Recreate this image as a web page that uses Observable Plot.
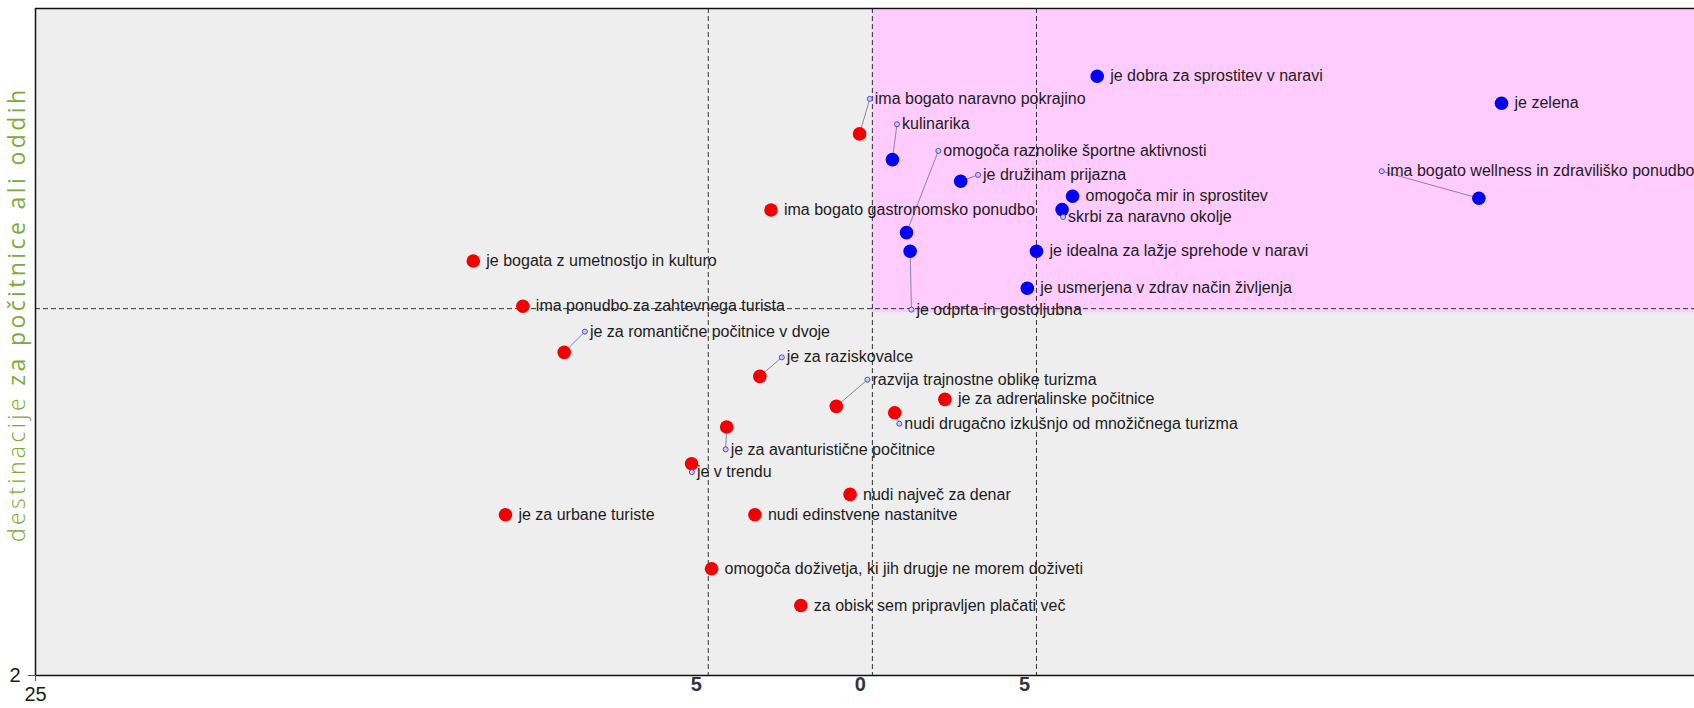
<!DOCTYPE html>
<html>
<head>
<meta charset="utf-8">
<script src="https://cdn.jsdelivr.net/npm/d3@7"></script>
<script src="https://cdn.jsdelivr.net/npm/@observablehq/plot@0.6"></script>
<style>
  body { margin: 0; background: #ffffff; }
  #chart svg { display: block; }
</style>
</head>
<body>
<div id="chart"></div>
<script>
// ---- Data ----
const labels = [
  "je dobra za sprostitev v naravi",
  "je zelena",
  "ima bogato wellness in zdraviliško ponudbo",
  "kulinarika",
  "omogoča raznolike športne aktivnosti",
  "je družinam prijazna",
  "omogoča mir in sprostitev",
  "skrbi za naravno okolje",
  "je idealna za lažje sprehode v naravi",
  "je usmerjena v zdrav način življenja",
  "je odprta in gostoljubna",
  "ima bogato naravno pokrajino",
  "ima bogato gastronomsko ponudbo",
  "je bogata z umetnostjo in kulturo",
  "ima ponudbo za zahtevnega turista",
  "je za romantične počitnice v dvoje",
  "je za raziskovalce",
  "razvija trajnostne oblike turizma",
  "je za adrenalinske počitnice",
  "nudi drugačno izkušnjo od množičnega turizma",
  "je za avanturistične počitnice",
  "je v trendu",
  "nudi največ za denar",
  "je za urbane turiste",
  "nudi edinstvene nastanitve",
  "omogoča doživetja, ki jih drugje ne morem doživeti",
  "za obisk sem pripravljen plačati več"
];
const groups = [
  "blue","blue","blue","blue","blue","blue","blue","blue","blue","blue","blue",
  "red","red","red","red","red","red","red","red","red","red","red","red","red","red","red","red"
];
const xValues = [6.85, 19.17, 18.48, 0.61, 1.04, 2.69, 6.10, 5.78, 5.00, 4.72, 1.15,
  -0.39, -3.09, -12.16, -10.65, -9.39, -3.43, -1.10, 2.21, 0.68, -4.44, -5.51, -0.68, -11.18, -3.58, -4.90, -2.18];
const yValues = [19.97, 19.16, 16.31, 17.47, 15.28, 16.82, 16.37, 15.97, 14.72, 13.61, 14.72,
  18.24, 15.96, 14.43, 13.07, 11.69, 10.97, 10.07, 10.28, 9.88, 9.45, 8.35, 7.43, 6.82, 6.82, 5.20, 4.10];
// label anchor (small circle) when the label is moved away from its point; null = label at the point
const labelX = [null, null, 15.52, 0.75, 2.01, 3.22, null, 5.81, null, null, 1.19,
  -0.08, null, null, null, -8.76, -2.76, -0.15, null, 0.82, -4.47, -5.50, null, null, null, null, null];
const labelY = [null, null, 17.12, 18.53, 17.73, 17.01, null, 15.75, null, null, 12.97,
  19.29, null, null, null, 12.31, 11.54, 10.87, null, 9.55, 8.78, 8.10, null, null, null, null, null];

const xDomain = [-25.5, 25.05];
const yDomain = [2, 22];
const xTicks = [-5, 0, 5];
const xTickLabels = ["5", "0", "5"];
const xEdgeLabel = "25";
const yTicks = [2];
const yTickLabels = ["2"];
const refX = [-5, 0, 5];
const refY = 13;
const titleLight = "destinacije ";
const titleRegular = "za počitnice ali oddih";

// ---- Build rows ----
const rows = labels.map((t, i) => ({
  text: t, color: groups[i] === "blue" ? "#0000f5" : "#f50000",
  x: xValues[i], y: yValues[i], lx: labelX[i], ly: labelY[i]
}));
const anchored = rows.filter(d => d.lx !== null);
const plain = rows.filter(d => d.lx === null);

const chart = Plot.plot({
  width: 1694,
  height: 708,
  marginLeft: 35,
  marginRight: 0,
  marginTop: 8,
  marginBottom: 33,
  style: { fontFamily: "'Liberation Sans', Arial, sans-serif", background: "#ffffff", overflow: "visible" },
  x: { domain: xDomain, axis: null },
  y: { domain: yDomain, axis: null },
  color: { type: "identity" },
  marks: [
    Plot.frame({ fill: "#eeeeee", stroke: null }),
    Plot.rect([0], { x1: 0, x2: xDomain[1], y1: refY - 0.12, y2: yDomain[1] - 0.06, fill: "#ffccff" }),
    Plot.ruleX(refX, { stroke: "#333333", strokeWidth: 1, strokeDasharray: "5,3" }),
    Plot.ruleY([refY], { stroke: "#333333", strokeWidth: 1, strokeDasharray: "5,3" }),
    Plot.link(anchored, { x1: "x", y1: "y", x2: "lx", y2: "ly", stroke: "#8c82a6", strokeWidth: 1 }),
    Plot.dot(rows, { x: "x", y: "y", r: 6.8, fill: "color", stroke: null }),
    Plot.dot(anchored, { x: "lx", y: "ly", r: 2.5, fill: "#cfcfff", stroke: "#4848e8", strokeWidth: 1 }),
    Plot.text(plain, { x: "x", y: "y", text: "text", textAnchor: "start", dx: 13, fontSize: 16, fill: "#1c1c1c" }),
    Plot.text(anchored, { x: "lx", y: "ly", text: "text", textAnchor: "start", dx: 5, fontSize: 16, fill: "#1c1c1c" }),
    Plot.ruleX([xDomain[0]], { stroke: "#111111", strokeWidth: 1.5 }),
    Plot.ruleY([yDomain[0], yDomain[1]], { stroke: "#111111", strokeWidth: 1.5 }),
    // x tick labels (offset left of their reference lines, as in the reference)
    Plot.text(xTicks, { x: d => d, frameAnchor: "bottom", dy: 15, dx: -12,
      text: (d, i) => xTickLabels[i], fontSize: 20, fontWeight: "bold", fill: "#333344" }),
    // left-edge x tick and its label
    Plot.ruleX([xDomain[0]], { y1: yDomain[0], y2: yDomain[0] - 0.18, stroke: "#555555", strokeWidth: 1 }),
    Plot.text([xEdgeLabel], { x: xDomain[0], frameAnchor: "bottom", dy: 25, text: d => d,
      fontSize: 20, fill: "#1c1c1c" }),
    // y tick
    Plot.ruleY(yTicks, { x1: xDomain[0] - 0.22, x2: xDomain[0], stroke: "#555555", strokeWidth: 1 }),
    Plot.text(yTicks, { y: d => d, frameAnchor: "left", dx: -15, textAnchor: "end",
      text: (d, i) => yTickLabels[i], fontSize: 20, fill: "#1c1c1c" })
  ]
});

document.getElementById("chart").appendChild(chart);

// Y-axis title with two weights
const svg = d3.select(chart);
const title = svg.append("text")
  .attr("transform", "translate(25,316) rotate(-90)")
  .attr("text-anchor", "middle")
  .attr("font-family", "'Open Sans', 'Noto Sans', sans-serif")
  .attr("font-size", 23)
  .attr("fill", "#7aab3b")
  .attr("textLength", 452)
  .attr("lengthAdjust", "spacing");
title.append("tspan").attr("font-weight", 300).text(titleLight);
title.append("tspan").attr("font-weight", 400).text(titleRegular);
</script>
</body>
</html>
